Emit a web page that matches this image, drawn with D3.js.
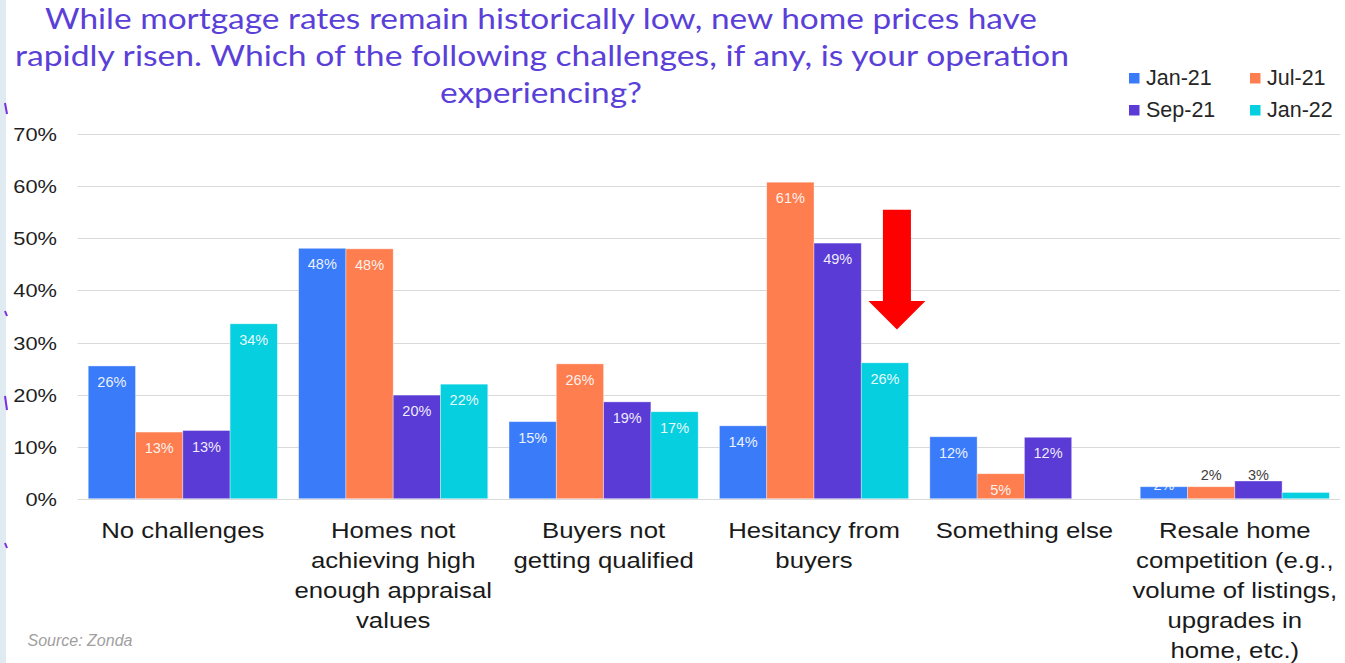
<!DOCTYPE html>
<meta charset="utf-8">
<head>
<script src="https://d3js.org/d3.v7.min.js"></script>
<style>
  body { margin: 0; background: #fff; }
  svg { display: block; }
</style>
</head>
<body>
<svg id="chart"></svg>
<script>
// data
var categories = ["No challenges", "Homes not achieving high enough appraisal values",
  "Buyers not getting qualified", "Hesitancy from buyers", "Something else",
  "Resale home competition (e.g., volume of listings, upgrades in home, etc.)"];
var categoryLines = [
  ["No challenges"],
  ["Homes not", "achieving high", "enough appraisal", "values"],
  ["Buyers not", "getting qualified"],
  ["Hesitancy from", "buyers"],
  ["Something else"],
  ["Resale home", "competition (e.g.,", "volume of listings,", "upgrades in", "home, etc.)"]
];
var seriesNames = ["Jan-21", "Jul-21", "Sep-21", "Jan-22"];
var jan21 = [25.5, 48.1, 14.8, 14.0, 11.9, 2.3];
var jul21 = [12.8, 48.0, 25.9, 60.8, 4.8, 2.3];
var sep21 = [13.1, 19.9, 18.6, 49.1, 11.8, 3.4];
var jan22 = [33.6, 22.0, 16.7, 26.1, null, 1.2];
var yTicks = [0, 10, 20, 30, 40, 50, 60, 70];
var titleLines = ["While mortgage rates remain historically low, new home prices have",
  "rapidly risen. Which of the following challenges, if any, is your operation",
  "experiencing?"];

var colors = ["#3a7bfa", "#fe7e50", "#5b3bd5", "#06cfe0"];
var seriesValues = [jan21, jul21, sep21, jan22];

var W = 1345, H = 663;
var svg = d3.select("#chart").attr("width", W).attr("height", H);

svg.append("rect").attr("width", W).attr("height", H).attr("fill", "#fff");
// slide edge strip on the left
svg.append("rect").attr("x", 0).attr("y", 0).attr("width", 6).attr("height", H).attr("fill", "#dfeaf1");
[[103, 114], [311, 316], [396, 410], [543, 548]].forEach(function(m){
  svg.append("line").attr("x1", 5).attr("x2", 7).attr("y1", m[0]).attr("y2", m[1])
    .attr("stroke", "#7b2fe0").attr("stroke-width", 2);
});

var x0 = d3.scaleBand().domain(categories).range([77.6, 1340]).paddingInner(0.101).paddingOuter(0.0505);
var x1 = d3.scaleBand().domain(seriesNames).range([0, x0.bandwidth()]);
var y = d3.scaleLinear().domain([0, 70]).range([498.7, 134.3]);

// gridlines
svg.append("g").selectAll("line").data(yTicks).join("line")
  .attr("x1", 77.6).attr("x2", 1340)
  .attr("y1", d => Math.round(y(d)) + 0.5).attr("y2", d => Math.round(y(d)) + 0.5)
  .attr("stroke", "#d9d9d9").attr("stroke-width", 1);

// y tick labels (slightly stretched like the original)
svg.append("g").selectAll("text").data(yTicks).join("text")
  .attr("transform", d => "translate(57," + (y(d) + 7) + ") scale(1.15,1)")
  .attr("text-anchor", "end")
  .attr("font-family", "Liberation Sans, Arial, sans-serif")
  .attr("font-size", 19).attr("fill", "#1f1f1f")
  .text(d => d + "%");

// bars
var rows = [];
seriesNames.forEach(function(s, si){
  categories.forEach(function(c, ci){
    rows.push({series: s, si: si, cat: c, ci: ci, value: seriesValues[si][ci]});
  });
});
var barRows = rows.filter(d => d.value != null);

svg.append("g").selectAll("rect").data(barRows).join("rect")
  .attr("x", d => x0(d.cat) + x1(d.series))
  .attr("y", d => y(d.value))
  .attr("width", x1.bandwidth())
  .attr("height", d => y(0) - y(d.value))
  .attr("fill", d => colors[d.si])
  .attr("stroke", "rgba(255,255,255,0.45)").attr("stroke-width", 0.8);

// data labels
var labelRows = barRows.filter(d => Math.round(d.value) >= 2);
svg.append("g").selectAll("text").data(labelRows).join("text")
  .attr("x", d => x0(d.cat) + x1(d.series) + x1.bandwidth() / 2)
  .attr("y", function(d){
    if (d.value >= 4) return y(d.value) + 21;
    return d.si === 0 ? y(0) - 9 : y(3.5);
  })
  .attr("text-anchor", "middle")
  .attr("font-family", "Liberation Sans, Arial, sans-serif")
  .attr("font-size", 14.5)
  .attr("fill", d => (d.value >= 4 || d.si === 0) ? "rgba(255,255,255,0.92)" : "#404040")
  .text(d => Math.round(d.value) + "%");

// category labels
var catG = svg.append("g").selectAll("g").data(categories).join("g")
  .attr("transform", d => "translate(" + (x0(d) + x0.bandwidth() / 2) + ",537.5) scale(1.12,1)");
catG.selectAll("text").data((d, i) => categoryLines[i]).join("text")
  .attr("x", 0).attr("y", (d, i) => i * 30.2)
  .attr("text-anchor", "middle")
  .attr("font-family", "Liberation Sans, Arial, sans-serif")
  .attr("font-size", 23).attr("fill", "#1a1a1a")
  .text(d => d);

// title
var titleX = [[45, 1037], [15, 1069], [440, 642]];
svg.append("g").selectAll("text").data(titleLines).join("text")
  .attr("x", (d, i) => titleX[i][0])
  .attr("y", (d, i) => 28.5 + i * 37)
  .attr("textLength", (d, i) => titleX[i][1] - titleX[i][0])
  .attr("lengthAdjust", "spacingAndGlyphs")
  .attr("font-family", "Lato, 'Noto Sans', sans-serif")
  .attr("font-size", 29).attr("fill", "#5a3fd8")
  .text(d => d);

// legend
var legend = svg.append("g").selectAll("g").data(seriesNames).join("g")
  .attr("transform", (d, i) => "translate(" + (i % 2 === 0 ? 1129 : 1250) + "," + (i < 2 ? 85 : 117) + ")");
legend.append("rect").attr("x", 0).attr("y", -12).attr("width", 10.5).attr("height", 10.5)
  .attr("fill", (d, i) => colors[i]);
legend.append("text").attr("x", 17).attr("y", 0)
  .attr("font-family", "Liberation Sans, Arial, sans-serif")
  .attr("font-size", 21.5).attr("fill", "#262626")
  .text(d => d);

// red arrow pointing at the Jan-22 "Hesitancy from buyers" bar
var ax = x0(categories[3]) + x1("Jan-22") + x1.bandwidth() / 2 + 12;
var arrow = [
  [ax - 14, y(55.5)], [ax + 14, y(55.5)], [ax + 14, y(38)], [ax + 28.5, y(38)],
  [ax, y(32.5)], [ax - 28.5, y(38)], [ax - 14, y(38)]
];
svg.append("path").attr("d", d3.line()(arrow) + "Z").attr("fill", "#ff0000");

// source
svg.append("text").attr("x", 27.5).attr("y", 646)
  .attr("font-family", "Liberation Sans, Arial, sans-serif")
  .attr("font-size", 16).attr("font-style", "italic").attr("fill", "#a0a0a0")
  .text("Source: Zonda");
</script>
</body>
